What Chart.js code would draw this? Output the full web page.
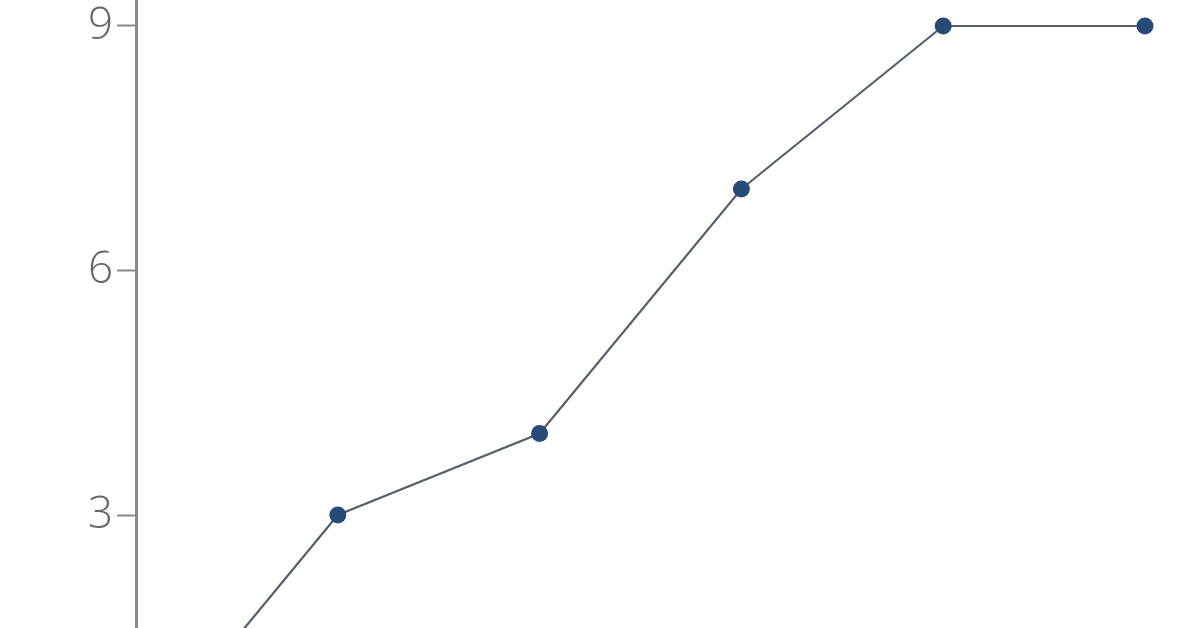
<!DOCTYPE html>
<html>
<head>
<meta charset="utf-8">
<script src="https://cdn.jsdelivr.net/npm/chart.js@4/dist/chart.umd.min.js"></script>
<style>
  html, body { margin: 0; padding: 0; background: #fff; overflow: hidden; width: 1197px; height: 628px; }
  #wrap { position: absolute; left: 0; top: -100px; width: 1197px; height: 900px; }
</style>
</head>
<body>
<div id="wrap"><canvas id="main-canvas"></canvas></div>
<script>
// chart values
const categories = ['1', '2', '3', '4', '5', '6'];
const seriesValues = [0, 3, 4, 7, 9, 9];
const yTicks = [0, 3, 6, 9];

const ctx = document.getElementById('main-canvas').getContext('2d');

const myChart = new Chart(ctx, {
    type: 'line',
    data: {
        labels: categories,
        datasets: [{
            label: 'Series',
            data: seriesValues,
            borderColor: '#56616d',
            borderWidth: 2.2,
            tension: 0,
            pointRadius: 8.5,
            pointBackgroundColor: '#274a78',
            pointBorderColor: '#274a78',
            pointBorderWidth: 0,
            clip: false
        }]
    },
    options: {
        responsive: true,
        maintainAspectRatio: false,
        animation: false,
        layout: { padding: { top: 44.5, bottom: 40.5, left: 0, right: 52 } },
        plugins: {
            tooltip: { enabled: false },
            legend: { display: false }
        },
        scales: {
            x: {
                display: false,
                offset: false
            },
            y: {
                min: 0,
                max: 10,
                afterBuildTicks: axis => axis.ticks = yTicks.map(v => ({ value: v })),
                afterFit: axis => { axis.width = 136; },
                grid: {
                    drawOnChartArea: false,
                    drawTicks: true,
                    tickLength: 19,
                    tickWidth: 2,
                    tickColor: '#8a8a8a'
                },
                border: { display: true, color: '#8a8a8a', width: 3 },
                ticks: {
                    color: '#666666',
                    padding: 4,
                    font: { family: 'Open Sans', size: 44, weight: 300 }
                }
            }
        }
    }
});
</script>
</body>
</html>
